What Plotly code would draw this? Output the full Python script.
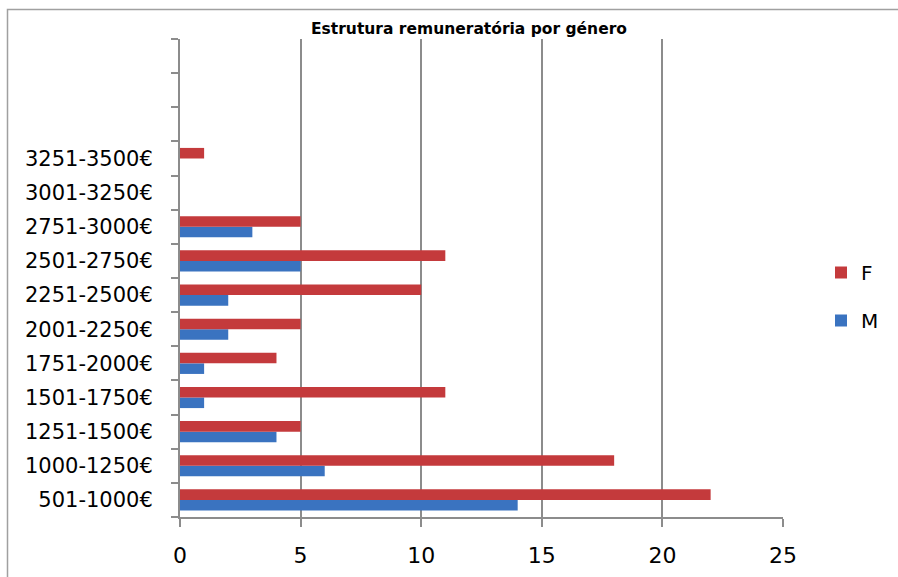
import plotly.graph_objects as go

categories = ["501-1000€", "1000-1250€", "1251-1500€", "1501-1750€", "1751-2000€",
              "2001-2250€", "2251-2500€", "2501-2750€", "2751-3000€", "3001-3250€",
              "3251-3500€", " ", "  ", "   "]
values_m = [14, 6, 4, 1, 1, 2, 2, 5, 3, 0, 0, None, None, None]
values_f = [22, 18, 5, 11, 4, 5, 10, 11, 5, 0, 1, None, None, None]

color_f = "#C43A3C"
color_m = "#3A73C0"
grid = "#8C8C8C"
font = "DejaVu Sans"

fig = go.Figure()
fig.add_trace(go.Bar(y=categories, x=values_m, orientation="h", name="M", legendrank=2,
                     marker=dict(color=color_m, line=dict(width=0)), legendgroup="m"))
fig.add_trace(go.Bar(y=categories, x=values_f, orientation="h", name="F", legendrank=1,
                     marker=dict(color=color_f, line=dict(width=0)), legendgroup="f"))

L, R, T, B = 180, 115, 39, 60
W, H = 898, 577
pw, ph = W - L - R, H - T - B

def px_x(p):
    return (p - L) / pw

def px_y(p):
    return (H - B - p) / ph

fig.update_layout(
    width=W, height=H,
    margin=dict(l=L, r=R, t=T, b=B, autoexpand=False),
    paper_bgcolor="white", plot_bgcolor="white",
    barmode="group", bargap=0.38, bargroupgap=0,
    font=dict(family=font, color="black"),
    showlegend=True,
    legend=dict(xref="container", yref="container", x=821 / W, y=1 - 253 / H,
                xanchor="left", yanchor="top",
                traceorder="grouped", tracegroupgap=19, itemwidth=30,
                font=dict(size=20, family=font), bgcolor="rgba(0,0,0,0)"),
    xaxis=dict(range=[0, 25], dtick=5, showgrid=True, gridcolor=grid, gridwidth=2,
               showline=True, linecolor=grid, linewidth=2, zeroline=False,
               ticks="outside", ticklen=8, tickwidth=2, tickcolor=grid,
               tickfont=dict(size=22, family=font), ticklabelstandoff=10),
    yaxis=dict(type="category", categoryorder="array", categoryarray=categories,
               range=[-0.5, len(categories) - 0.5],
               showgrid=False, showline=True, linecolor=grid, linewidth=2,
               ticks="outside", ticklen=7, tickwidth=2, tickcolor=grid,
               tickson="boundaries", tickfont=dict(size=21, family=font),
               ticklabelstandoff=21),
    annotations=[dict(text="<b>Estrutura remuneratória por género</b>", xref="paper", yref="paper",
                      x=px_x(469), y=px_y(29), xanchor="center", yanchor="middle",
                      showarrow=False, font=dict(size=15.5, family=font))],
    shapes=[dict(type="rect", xref="paper", yref="paper",
                 x0=px_x(7.5), y0=px_y(640), x1=px_x(960), y1=px_y(9.5),
                 line=dict(color="#A0A0A0", width=1.5), layer="below")],
)

fig.write_html("out.html")
